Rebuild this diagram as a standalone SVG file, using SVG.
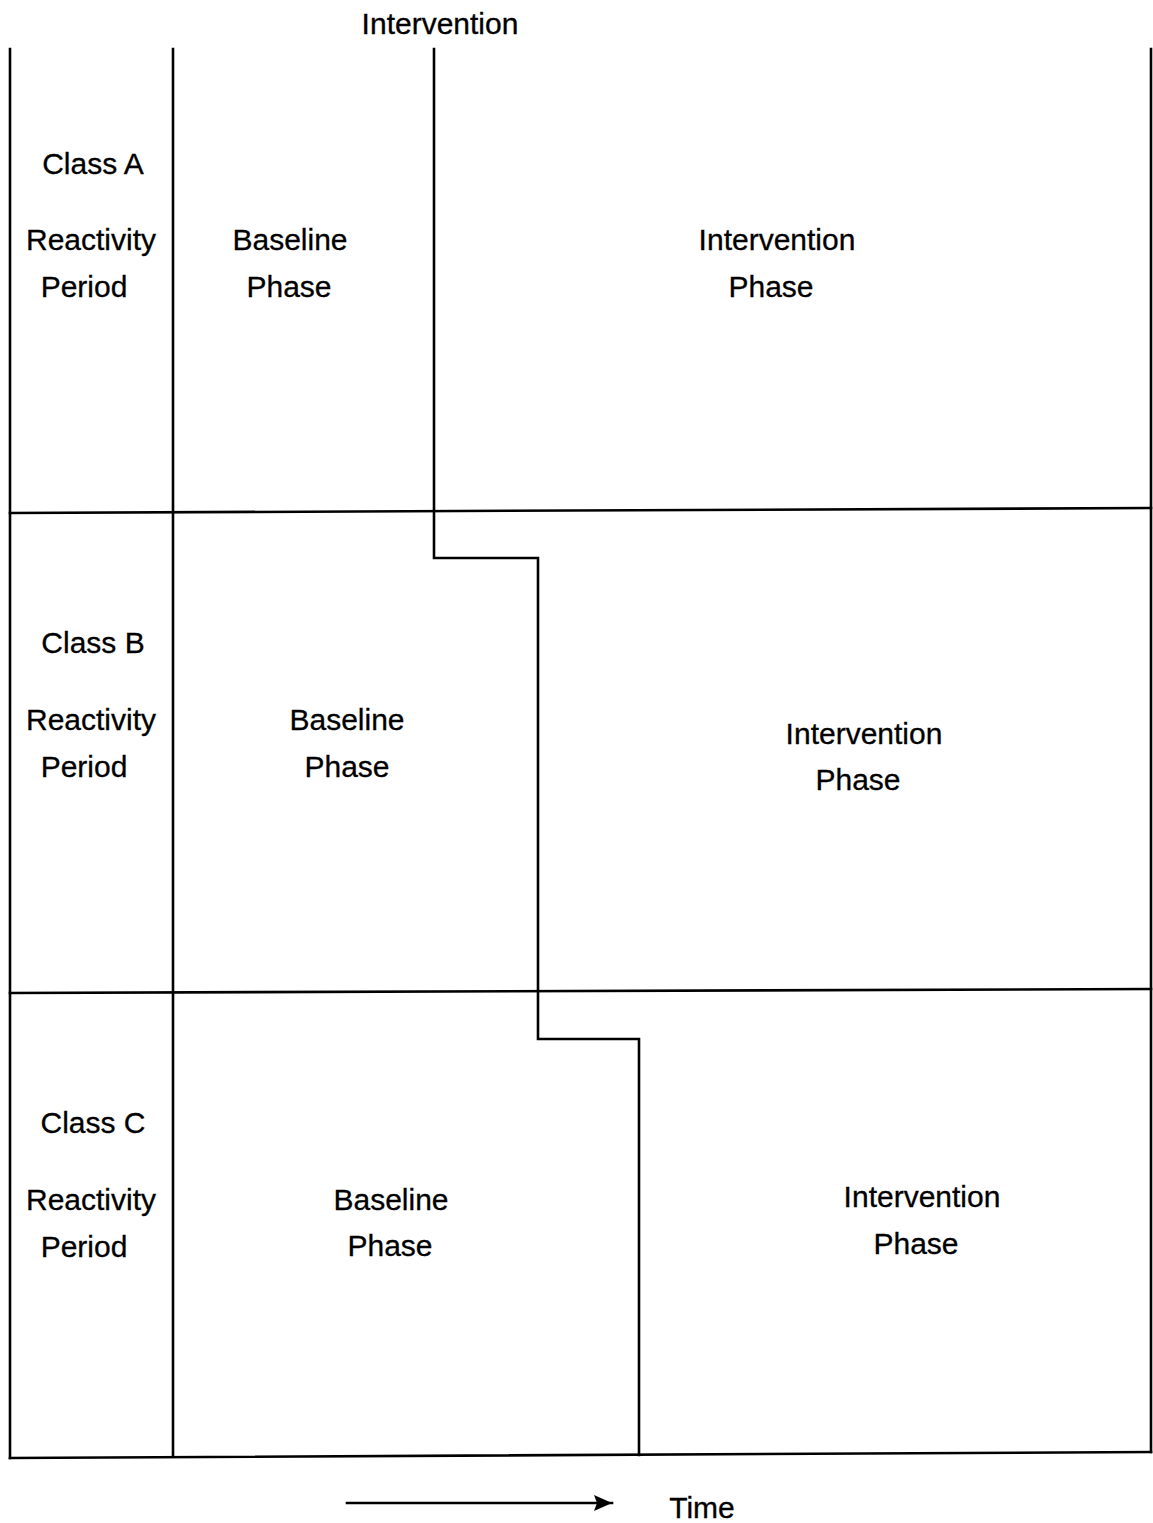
<svg xmlns="http://www.w3.org/2000/svg" width="1153" height="1523" viewBox="0 0 1153 1523">
<style>
  .ln{stroke:#000;stroke-width:2.6;fill:none;stroke-linecap:square}
  text{font-family:"Liberation Sans",Arial,sans-serif;font-size:30px;fill:#000;text-anchor:middle;stroke:#000;stroke-width:0.3}
</style>
<defs>
  <marker id="ah" viewBox="0 0 20 18" refX="19" refY="9" markerWidth="20" markerHeight="18" orient="auto" markerUnits="userSpaceOnUse">
    <path d="M1,1 L19,9 L1,17 L4,9 Z" fill="#000"/>
  </marker>
</defs>
<rect width="1153" height="1523" fill="#fff"/>
<g id="grid">
  <line class="ln" x1="10" y1="49" x2="10" y2="1458"/>
  <line class="ln" x1="173" y1="49" x2="173" y2="1455"/>
  <line class="ln" x1="1151" y1="49" x2="1151" y2="1452"/>
  <line class="ln" x1="10" y1="513" x2="1151" y2="508"/>
  <line class="ln" x1="10" y1="993" x2="1151" y2="989"/>
  <line class="ln" x1="10" y1="1458" x2="1151" y2="1452"/>
  <polyline class="ln" points="434,49 434,558 538,558 538,1039 639,1039 639,1455"/>
</g>
<g id="header">
  <text x="440" y="34">Intervention</text>
</g>
<g id="classA">
  <text x="93" y="174">Class A</text>
  <text x="91" y="250">Reactivity</text>
  <text x="84" y="297">Period</text>
</g>
<g id="baselineA">
  <text x="290" y="250">Baseline</text>
  <text x="289" y="297">Phase</text>
</g>
<g id="interventionA">
  <text x="777" y="250">Intervention</text>
  <text x="771" y="297">Phase</text>
</g>
<g id="classB">
  <text x="93" y="653">Class B</text>
  <text x="91" y="730">Reactivity</text>
  <text x="84" y="777">Period</text>
</g>
<g id="baselineB">
  <text x="347" y="730">Baseline</text>
  <text x="347" y="777">Phase</text>
</g>
<g id="interventionB">
  <text x="864" y="744">Intervention</text>
  <text x="858" y="790">Phase</text>
</g>
<g id="classC">
  <text x="93" y="1133">Class C</text>
  <text x="91" y="1210">Reactivity</text>
  <text x="84" y="1257">Period</text>
</g>
<g id="baselineC">
  <text x="391" y="1210">Baseline</text>
  <text x="390" y="1256">Phase</text>
</g>
<g id="interventionC">
  <text x="922" y="1207">Intervention</text>
  <text x="916" y="1254">Phase</text>
</g>
<g id="connectors">
  <line class="ln" x1="347" y1="1503" x2="612" y2="1503" marker-end="url(#ah)"/>
</g>
<g id="time">
  <text x="702" y="1518">Time</text>
</g>
</svg>
